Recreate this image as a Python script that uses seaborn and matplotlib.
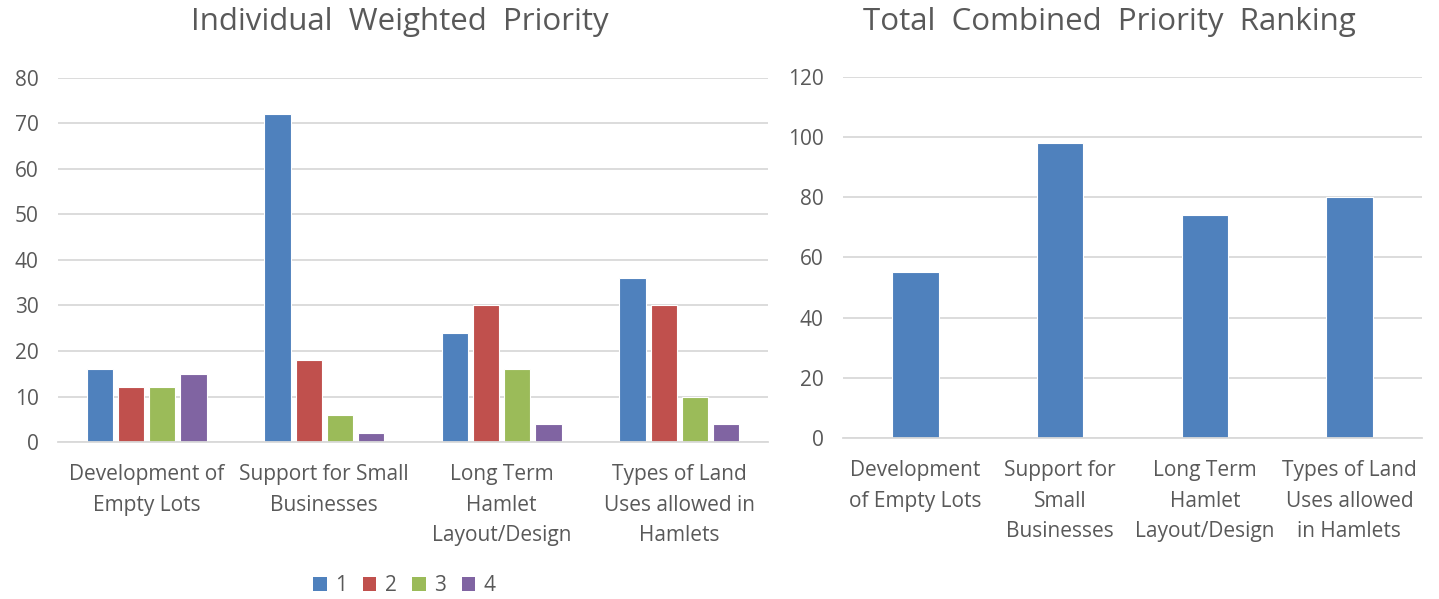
import numpy as np
import pandas as pd
import matplotlib
matplotlib.use("Agg")
import matplotlib.pyplot as plt
from matplotlib.patches import Patch
import seaborn as sns

# Categories and values
categories_left = ["Development of\nEmpty Lots", "Support for Small\nBusinesses",
                   "Long Term\nHamlet\nLayout/Design", "Types of Land\nUses allowed in\nHamlets"]
categories_right = ["Development\nof Empty Lots", "Support for\nSmall\nBusinesses",
                    "Long Term\nHamlet\nLayout/Design", "Types of Land\nUses allowed\nin Hamlets"]
rank_labels = ["1", "2", "3", "4"]
rank1 = [16, 72, 24, 36]
rank2 = [12, 18, 30, 30]
rank3 = [12, 6, 16, 10]
rank4 = [15, 2, 4, 4]
totals = [55, 98, 74, 80]

colors = ["#4F81BD", "#C0504D", "#9BBB59", "#8064A2"]
text_color = "#595959"
grid_color = "#D9D9D9"

sns.set_style("white")
plt.rcParams["font.family"] = ["Open Sans", "DejaVu Sans"]

long_rows = []
for label, series in zip(rank_labels, [rank1, rank2, rank3, rank4]):
    for cat, v in zip(categories_left, series):
        long_rows.append({"category": cat, "rank": label, "value": v})
df_left = pd.DataFrame(long_rows)
df_right = pd.DataFrame({"category": categories_right, "value": totals})

fig = plt.figure(figsize=(14.39, 5.99), dpi=100)
ax1 = fig.add_axes([0.0403, 0.262, 0.4934, 0.608])
ax2 = fig.add_axes([0.586, 0.269, 0.402, 0.6025])

sns.barplot(data=df_left, x="category", y="value", hue="rank", order=categories_left,
            hue_order=rank_labels, palette=colors, width=0.70, gap=0.15,
            saturation=1, edgecolor="white", linewidth=0.8, ax=ax1, legend=False)
sns.barplot(data=df_right, x="category", y="value", order=categories_right,
            color=colors[0], width=0.32, saturation=1, edgecolor="white",
            linewidth=0.8, ax=ax2)

for ax, top, step in [(ax1, 80, 10), (ax2, 120, 20)]:
    ax.set_ylim(0, top)
    ax.set_xlim(-0.5, 3.5)
    ax.set_yticks(np.arange(0, top + 1, step))
    ax.yaxis.grid(True, color=grid_color, linewidth=1.3)
    ax.set_axisbelow(True)
    for side in ["top", "right", "left"]:
        ax.spines[side].set_visible(False)
    ax.spines["bottom"].set_color(grid_color)
    ax.spines["bottom"].set_linewidth(1.3)
    ax.set_xlabel("")
    ax.set_ylabel("")
    ax.tick_params(axis="both", length=0, labelsize=15, colors=text_color)
    ax.tick_params(axis="y", pad=14)
    ax.tick_params(axis="x", pad=16)
    for t in ax.get_xticklabels():
        t.set_linespacing(1.6)
        t.set_verticalalignment("top")

fig.text(0.278, 0.963, "Individual  Weighted  Priority", ha="center", va="center",
         fontsize=22.5, color=text_color)
fig.text(0.771, 0.963, "Total  Combined  Priority  Ranking", ha="center", va="center",
         fontsize=22.5, color=text_color)

handles = [Patch(facecolor=c, edgecolor="none") for c in colors]
fig.legend(handles, rank_labels, loc="center", bbox_to_anchor=(0.281, 0.022), ncol=4,
           frameon=False, fontsize=15, labelcolor=text_color, handlelength=0.65,
           handleheight=0.65, handletextpad=0.4, columnspacing=0.75)

fig.savefig("out.png", dpi=100)
